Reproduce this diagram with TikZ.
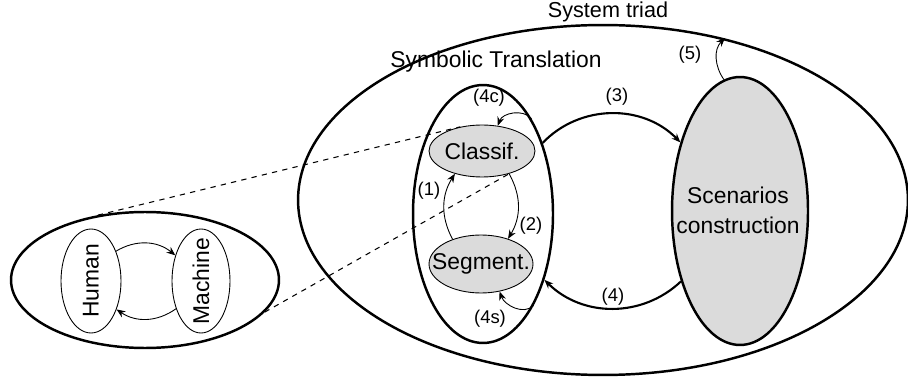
\documentclass[tikz,border=0pt]{standalone}
\usepackage{fontspec}
\setmainfont{Liberation Sans}
\usetikzlibrary{shapes.geometric,arrows.meta}

\tikzset{
  bigell/.style={draw, ellipse, line width=1.4pt, inner sep=0pt},
  smallell/.style={draw, ellipse, line width=0.5pt, inner sep=0pt},
  txt/.style={font=\fontsize{13}{17}\selectfont, inner sep=0pt, align=center},
  lbl/.style={font=\fontsize{10.5}{12}\selectfont, inner sep=0pt},
  title/.style={font=\fontsize{13}{15}\selectfont, inner sep=0pt},
  thinarr/.style={->, line width=0.5pt},
  thickarr/.style={->, line width=1.2pt}
}

\begin{document}
\begin{tikzpicture}[x=0.02cm, y=-0.02cm, >={Stealth[length=5pt,width=4pt]}]
        \useasboundingbox (0, 0) rectangle (908, 381);

        % big ellipses
        \node[bigell, minimum width=12.2cm, minimum height=7cm] (triad) at (603, 200) {};
        \node[bigell, minimum width=2.8cm, minimum height=5.16cm] (symb) at (483, 214) {};
        \node[bigell, minimum width=2.72cm, minimum height=5.36cm, fill=black!14] (scen) at (740, 211) {};
        \node[bigell, minimum width=5.36cm, minimum height=2.72cm] (zoom) at (145, 280) {};

        \node[txt] (scentxt) at (738, 210) {Scenarios\\construction};
        \node[title, font=\fontsize{12.3}{15}\selectfont] (triadlbl) at (608, 12) {System triad};
        \node[title] (symblbl) at (496, 62) {Symbolic Translation};

        % inner ellipses
        \node[smallell, fill=black!14, minimum width=2.12cm, minimum height=1.04cm] (classif) at (482, 151) {};
        \node[smallell, fill=black!14, minimum width=2.08cm, minimum height=1.16cm] (segment) at (481, 264) {};
        \node[txt] (classiftxt) at (classif.center) {Classif.};
        \node[txt] (segmenttxt) at (segment.center) {Segment.};

        \node[smallell, minimum width=1.2cm, minimum height=2.08cm] (human) at (91, 281) {};
        \node[smallell, minimum width=1.16cm, minimum height=2.08cm] (machine) at (201, 281) {};
        \node[txt, rotate=90] (humantxt) at (human.center) {Human};
        \node[txt, rotate=90] (machinetxt) at (machine.center) {Machine};

        % dashed zoom lines
        \draw[dashed, line width=0.6pt] (zoom.126) -- (classif.132);
        \draw[dashed, line width=0.6pt] (zoom.345) -- (classif.320);

        % human / machine loop
        \draw[thinarr] (human.50) to [bend left=35] (machine.135);
        \draw[thinarr] (machine.228) to [bend left=35] (human.312);

        % inner loop
        \draw[thinarr] (segment.139) to [bend left=30] (classif.220);
        \draw[thinarr] (classif.320) to [bend left=30] (segment.43);
        \node[lbl] (l1) at (429, 191) {(1)};
        \node[lbl] (l2) at (531, 226) {(2)};

        \draw[thinarr] (symb.63) to [out=130, in=70] (classif.58);
        \draw[thinarr] (symb.299) to [out=225, in=-70] (segment.304);
        \node[lbl] (l4c) at (489, 98) {(4c)};
        \node[lbl] (l4s) at (490, 319) {(4s)};

        % outer loop
        \draw[thickarr] (symb.50) to [bend left=46] (scen.131);
        \draw[thickarr] (scen.230) to [bend left=44] (symb.313);
        \node[lbl] (l3) at (617, 97) {(3)};
        \node[lbl] (l4) at (613, 297) {(4)};

        \coordinate (out5) at (725, 38);
        \draw[thinarr] (scen.97) to [out=125, in=225] (out5);
        \node[lbl] (l5) at (690, 55) {(5)};
\end{tikzpicture}
\end{document}
